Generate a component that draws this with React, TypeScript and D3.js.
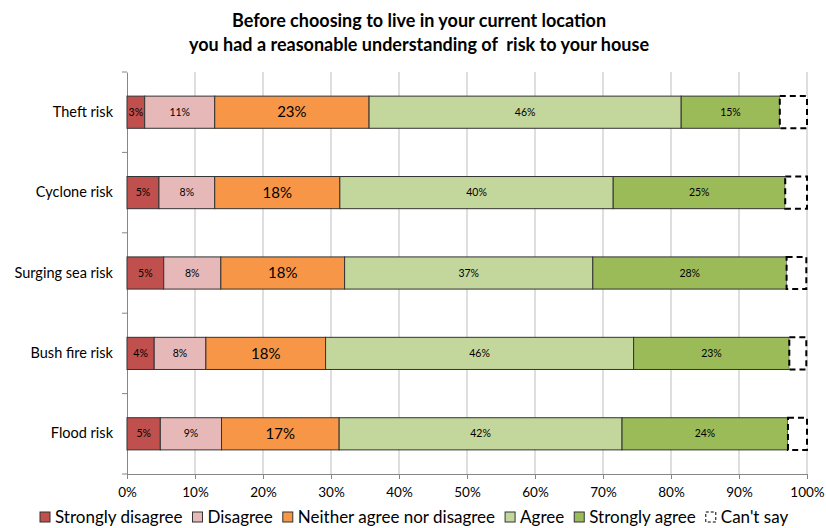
import React, { useEffect, useRef } from 'react';
import { axisBottom, axisLeft, scaleBand, scaleLinear, select } from 'd3';

const categories = ['Theft risk', 'Cyclone risk', 'Surging sea risk', 'Bush fire risk', 'Flood risk'];
const seriesNames = ['Strongly disagree', 'Disagree', 'Neither agree nor disagree', 'Agree', 'Strongly agree', "Can't say"];
const stronglyDisagree = [2.6, 4.7, 5.4, 4.0, 4.9];
const disagree = [10.3, 8.2, 8.4, 7.6, 9.0];
const neither = [22.7, 18.4, 18.2, 17.6, 17.3];
const agree = [45.9, 40.2, 36.5, 45.3, 41.6];
const stronglyAgree = [14.5, 25.3, 28.5, 22.9, 24.4];
const cantSay = [4.0, 3.2, 2.9, 2.5, 2.8];
const shownLabels = [
  ['3%', '11%', '23%', '46%', '15%'],
  ['5%', '8%', '18%', '40%', '25%'],
  ['5%', '8%', '18%', '37%', '28%'],
  ['4%', '8%', '18%', '46%', '23%'],
  ['5%', '9%', '17%', '42%', '24%'],
];
const xTicks = [0, 10, 20, 30, 40, 50, 60, 70, 80, 90, 100];
const titleLines = ['Before choosing to live in your current location', 'you had a reasonable understanding of  risk to your house'];

const colors = ['#C0504D', '#E6B9B8', '#F79646', '#C3D69B', '#9BBB59', '#FFFFFF'];
const font = 'Lato, "Noto Sans", sans-serif';

export default function App() {
  const svgRef = useRef<SVGSVGElement>(null);
  const W = 826, H = 528;
  const margin = { top: 72, right: 19, bottom: 54, left: 127 };
  const width = W - margin.left - margin.right;
  const height = H - margin.top - margin.bottom;

  useEffect(() => {
    const svg = select(svgRef.current);
    svg.selectAll('*').remove();
    const x = scaleLinear().domain([0, 100]).range([0, width]);
    const y = scaleBand().domain(categories).range([0, height]).paddingInner(0.6).paddingOuter(0.3);
    const band = height / categories.length;

    // title
    svg.append('g').selectAll('text').data(titleLines).join('text')
      .attr('x', 419).attr('y', (d, i) => 27 + i * 24)
      .attr('text-anchor', 'middle').attr('font-family', font)
      .attr('font-weight', 'bold').attr('font-size', 18).attr('fill', '#000')
      .style('white-space', 'pre')
      .text(d => d);

    const g = svg.append('g').attr('transform', `translate(${margin.left},${margin.top})`);

    // gridlines
    g.selectAll('.grid').data(xTicks.slice(1)).join('line')
      .attr('x1', d => x(d)).attr('x2', d => x(d)).attr('y1', 0).attr('y2', height)
      .attr('stroke', '#BDBDBD').attr('stroke-width', 1);

    const xa = g.append('g').attr('transform', `translate(0,${height})`)
      .call(axisBottom(x).tickValues(xTicks).tickFormat(d => `${d}%`).tickSize(5).tickSizeOuter(0));
    xa.select('.domain').attr('stroke', '#868686');
    xa.selectAll('line').attr('stroke', '#868686');
    xa.selectAll('text').attr('font-family', font).attr('font-size', 13.5).attr('fill', '#000').attr('dy', '1.1em');

    const ya = g.append('g').call(axisLeft(y).tickSize(0).tickPadding(14));
    ya.select('.domain').attr('stroke', '#868686');
    ya.selectAll('text').attr('font-family', font).attr('font-size', 14.5).attr('fill', '#000');
    g.selectAll('.ytick').data([0, 1, 2, 3, 4, 5]).join('line')
      .attr('x1', -5).attr('x2', 0).attr('y1', d => d * band).attr('y2', d => d * band)
      .attr('stroke', '#868686');

    const series = [stronglyDisagree, disagree, neither, agree, stronglyAgree, cantSay];
    categories.forEach((cat, ci) => {
      let acc = 0;
      series.forEach((s, si) => {
        const x0 = acc;
        acc += s[ci];
        const isCant = si === 5;
        g.append('rect')
          .attr('x', x(x0)).attr('y', y(cat)!)
          .attr('width', x(acc) - x(x0)).attr('height', y.bandwidth())
          .attr('fill', colors[si])
          .attr('stroke', isCant ? '#000' : '#333')
          .attr('stroke-width', isCant ? 2 : 1)
          .attr('stroke-dasharray', isCant ? '6,4' : null);
        if (!isCant) {
          g.append('text')
            .attr('x', (x(x0) + x(acc)) / 2).attr('y', y(cat)! + y.bandwidth() / 2)
            .attr('dy', '0.35em').attr('text-anchor', 'middle')
            .attr('font-family', font).attr('font-size', si === 2 ? 15 : 10.5).attr('fill', '#000')
            .text(shownLabels[ci][si]);
        }
      });
    });

    // legend
    const lg = svg.append('g').attr('transform', `translate(0,${H - 5})`);
    let lx = 40;
    seriesNames.forEach((name, i) => {
      const isCant = i === 5;
      lg.append('rect').attr('x', lx).attr('y', -11).attr('width', 10).attr('height', 10)
        .attr('fill', colors[i]).attr('stroke', isCant ? '#000' : '#333')
        .attr('stroke-width', 1).attr('stroke-dasharray', isCant ? '3,2' : null);
      const t = lg.append('text').attr('x', lx + 15).attr('y', 0)
        .attr('font-family', font).attr('font-size', 17).attr('fill', '#000').text(name);
      const w = (t.node() as SVGTextElement).getComputedTextLength();
      lx += 15 + w + 10;
    });
  }, []);

  return (
    <svg ref={svgRef} width={W} height={H} style={{ position: 'absolute', left: 0, top: 0, background: '#fff' }} />
  );
}
